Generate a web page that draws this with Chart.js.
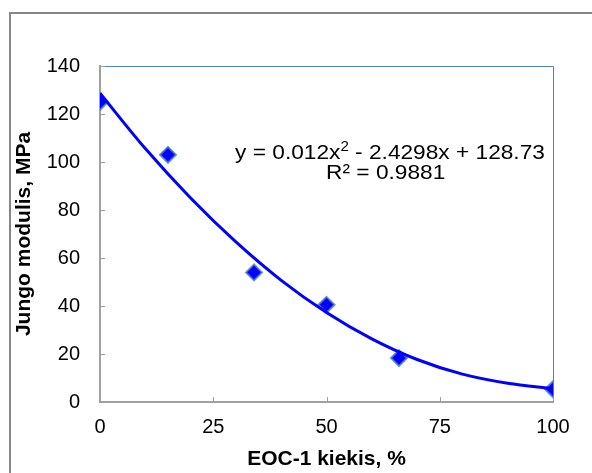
<!DOCTYPE html>
<html>
<head>
<meta charset="utf-8">
<script src="https://cdn.jsdelivr.net/npm/chart.js@4.4.1/dist/chart.umd.min.js"></script>
<style>
  html, body { margin: 0; padding: 0; background: #fff; }
  #wrap { width: 592px; height: 473px; }
</style>
</head>
<body>
<div id="wrap"><canvas id="chart" width="592" height="473"></canvas></div>
<script>
// measured points
const eocAmount = [0, 15, 34, 50, 66, 100];
const youngModulus = [125, 103, 54, 40.5, 18.3, 5.3];

// trend line
const trendX = [0, 10, 20, 30, 40, 50, 60, 70, 80, 90, 100];
const trendY = [128.7, 105.6, 85.0, 66.7, 50.7, 37.3, 26.3, 17.7, 11.6, 7.8, 5.5];

const xTicks = [0, 25, 50, 75, 100];
const yTicks = [0, 20, 40, 60, 80, 100, 120, 140];

const equationParts = ["y = 0.012x", "2", " - 2.4298x + 128.73"];
const r2Label = "R² = 0.9881";

const FONT = "'Liberation Sans', Arial, sans-serif";

const framePlugin = {
    id: "frame",
    beforeDraw(chart) {
        const ctx = chart.ctx;
        ctx.save();
        ctx.fillStyle = "#fff";
        ctx.fillRect(0, 0, chart.width, chart.height);
        ctx.strokeStyle = "#868686";
        ctx.lineWidth = 2;
        ctx.strokeRect(10, 13, chart.width + 20, chart.height + 20);
        ctx.restore();
    },
    beforeDatasetsDraw(chart) {
        const ctx = chart.ctx;
        const a = chart.chartArea;
        ctx.save();
        // top and right edge of plot area
        ctx.strokeStyle = "#4F81BD";
        ctx.lineWidth = 1;
        ctx.beginPath();
        ctx.moveTo(a.left, a.top + 0.5);
        ctx.lineTo(a.right + 0.5, a.top + 0.5);
        ctx.lineTo(a.right + 0.5, a.bottom);
        ctx.stroke();
        // inward tick marks
        ctx.strokeStyle = "#A0A0A0";
        ctx.lineWidth = 1;
        ctx.beginPath();
        xTicks.forEach(v => {
            const px = Math.round(chart.scales.x.getPixelForValue(v)) + 0.5;
            ctx.moveTo(px, a.bottom);
            ctx.lineTo(px, a.bottom - 5);
        });
        yTicks.forEach(v => {
            const py = Math.round(chart.scales.y.getPixelForValue(v)) + 0.5;
            ctx.moveTo(a.left, py);
            ctx.lineTo(a.left + 5, py);
        });
        ctx.stroke();
        ctx.restore();
    },
    afterDraw(chart) {
        const ctx = chart.ctx;
        ctx.save();
        ctx.fillStyle = "#000";
        ctx.textBaseline = "alphabetic";
        const big = "21px " + FONT;
        const small = "14px " + FONT;
        ctx.font = big;
        const w1 = ctx.measureText(equationParts[0]).width;
        const w3 = ctx.measureText(equationParts[2]).width;
        ctx.font = small;
        const w2 = ctx.measureText(equationParts[1]).width;
        const cx = 390;
        // the reference text is a little wider than the font
        ctx.translate(cx, 0);
        ctx.scale(1.08, 1);
        let x = -(w1 + w2 + w3) / 2;
        const base1 = 159;
        ctx.textAlign = "left";
        ctx.font = big;
        ctx.fillText(equationParts[0], x, base1);
        x += w1;
        ctx.font = small;
        ctx.fillText(equationParts[1], x, base1 - 8);
        x += w2;
        ctx.font = big;
        ctx.fillText(equationParts[2], x, base1);
        ctx.textAlign = "center";
        ctx.fillText(r2Label, -4, 179);
        ctx.restore();
    }
};

new Chart(document.getElementById("chart"), {
    type: "scatter",
    data: {
        datasets: [
            {
                label: "trend",
                data: trendX.map((x, i) => ({ x: x, y: trendY[i] })),
                showLine: true,
                borderColor: "#0000FF",
                borderWidth: 3,
                pointRadius: 0,
                cubicInterpolationMode: "monotone",
                fill: false
            },
            {
                label: "EOC-1",
                data: eocAmount.map((x, i) => ({ x: x, y: youngModulus[i] })),
                showLine: false,
                pointStyle: "rectRot",
                pointRadius: 8,
                backgroundColor: "#0000FF",
                borderColor: "rgba(79,129,189,0.8)",
                borderWidth: 2
            }
        ]
    },
    options: {
        responsive: false,
        animation: false,
        layout: { padding: { left: 0, top: 66, right: 39, bottom: 0 } },
        plugins: {
            legend: { display: false },
            tooltip: { enabled: false }
        },
        scales: {
            x: {
                type: "linear",
                min: 0,
                max: 100,
                afterFit(scale) { scale.height = 71; },
                afterBuildTicks(scale) { scale.ticks = xTicks.map(v => ({ value: v })); },
                grid: { display: true, drawOnChartArea: false, drawTicks: false },
                border: { display: true, color: "#A0A0A0", width: 2 },
                ticks: {
                    padding: 13,
                    color: "#000",
                    font: { family: FONT, size: 20 },
                    maxRotation: 0
                },
                title: {
                    display: true,
                    text: "EOC-1 kiekis, %",
                    color: "#000",
                    font: { family: FONT, size: 21, weight: "bold" },
                    padding: { top: 0, bottom: 1 }
                }
            },
            y: {
                type: "linear",
                min: 0,
                max: 140,
                afterFit(scale) { scale.width = 100; },
                afterBuildTicks(scale) { scale.ticks = yTicks.map(v => ({ value: v })); },
                grid: { display: true, drawOnChartArea: false, drawTicks: false },
                border: { display: true, color: "#A0A0A0", width: 2 },
                ticks: {
                    padding: 20,
                    color: "#000",
                    font: { family: FONT, size: 20 }
                },
                title: {
                    display: true,
                    text: "Jungo modulis, MPa",
                    color: "#000",
                    font: { family: FONT, size: 21, weight: "bold" },
                    padding: { top: 12, bottom: 0 }
                }
            }
        }
    },
    plugins: [framePlugin]
});
</script>
</body>
</html>
